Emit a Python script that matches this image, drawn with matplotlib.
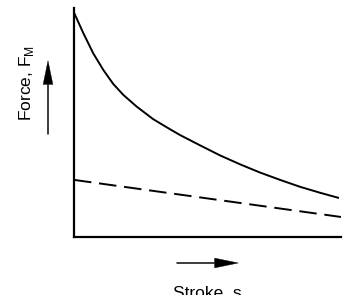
import numpy as np
import matplotlib
matplotlib.use("Agg")
import matplotlib.pyplot as plt
from matplotlib.patches import FancyArrowPatch

plt.rcParams['font.family'] = ['Liberation Sans', 'DejaVu Sans']

# stroke position (fraction of full stroke) and force values
stroke = [0.000, 0.035, 0.072, 0.110, 0.147, 0.185, 0.235, 0.297, 0.360, 0.397,
          0.472, 0.547, 0.622, 0.697, 0.772, 0.846, 0.921, 0.989]
force = [0.980, 0.890, 0.802, 0.729, 0.668, 0.620, 0.569, 0.514, 0.470, 0.445,
         0.400, 0.356, 0.317, 0.281, 0.249, 0.219, 0.193, 0.171]

# dashed straight line
stroke_dash = [0.0, 1.0]
force_dash = [0.249, 0.087]

fig = plt.figure(figsize=(3.49, 2.95), dpi=100)
ax = fig.add_axes([0.212, 0.197, 0.765, 0.776])

ax.plot(stroke, force, color='black', lw=1.4, solid_joinstyle='round')
ax.plot(stroke_dash, force_dash, color='black', lw=1.4, dashes=(9, 4), dash_capstyle='butt')

ax.set_xlim(0, 1)
ax.set_ylim(0, 1)
ax.spines['top'].set_visible(False)
ax.spines['right'].set_visible(False)
for s in ('left', 'bottom'):
    ax.spines[s].set_linewidth(1.6)
ax.set_xticks([])
ax.set_yticks([])

# axis labels with arrows
fig.text(26 / 349, 1 - 83 / 295, r'Force, F$_{\mathregular{M}}$', rotation=90,
         ha='center', va='center', fontsize=12.5)
fig.text(207 / 349, 1 - 286 / 295, 'Stroke, s', ha='center', va='top', fontsize=12.5)

style = 'simple,head_length=1.7,head_width=0.7,tail_width=0.08'
fig.add_artist(FancyArrowPatch((48 / 349, 1 - 137 / 295), (48 / 349, 1 - 58 / 295),
                               transform=fig.transFigure, arrowstyle=style,
                               mutation_scale=10, color='black', lw=0.3))
fig.add_artist(FancyArrowPatch((174 / 349, 1 - 263 / 295), (241 / 349, 1 - 263 / 295),
                               transform=fig.transFigure, arrowstyle=style,
                               mutation_scale=10, color='black', lw=0.3))

fig.savefig('out.png', dpi=100)
